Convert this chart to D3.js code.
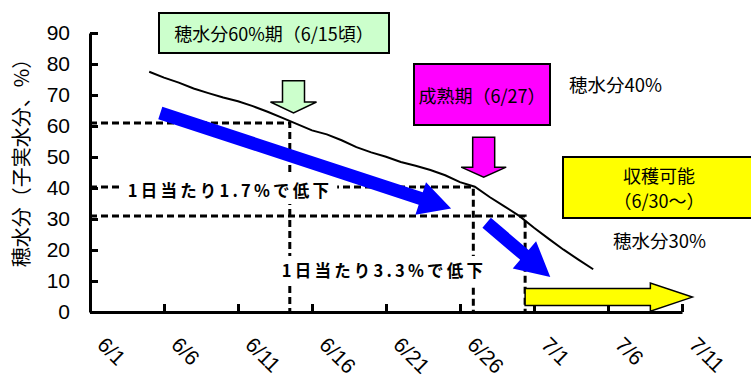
<!DOCTYPE html>
<html>
<head>
<meta charset="utf-8">
<script src="https://cdn.jsdelivr.net/npm/d3@7"></script>
<style>
  body { margin: 0; background: #fff; }
  svg { display: block; }
  text { font-family: "Noto Sans CJK JP", "Liberation Sans", sans-serif; }
  text.num { font-family: "Liberation Sans", Arial, sans-serif; }
</style>
</head>
<body>
<script>
// daily moisture readings (days counted from 6/1)
var dates = ["6/5","6/6","6/7","6/8","6/9","6/10","6/11","6/12","6/13","6/14","6/15","6/16",
             "6/17","6/18","6/19","6/20","6/21","6/22","6/23","6/24","6/25","6/26","6/27","6/28",
             "6/29","6/30","7/1","7/2","7/3","7/4","7/5"];
var moisture = [77.5, 75.6, 74.0, 72.1, 70.6, 69.2, 68.0, 66.4, 64.6, 62.6, 60.6, 58.6,
                57.3, 55.4, 53.2, 51.5, 50.1, 48.4, 47.2, 45.8, 44.1, 41.9, 40.4, 37.1,
                34.1, 31.0, 27.2, 23.6, 20.1, 16.9, 13.8];
var tickLabels = ["6/1","6/6","6/11","6/16","6/21","6/26","7/1","7/6","7/11"];
var yTicks = [0, 10, 20, 30, 40, 50, 60, 70, 80, 90];

// reference points (day, moisture) for the dashed guide lines
var guideDays = [13.5, 25.9, 29.4];
var guideLevels = [61, 40.3, 31];

function dayOf(s) {
  var p = s.split("/");
  return (+p[0] === 7 ? 30 : 0) + (+p[1]) - 1;
}

var W = 751, H = 379;
var svg = d3.select("body").append("svg").attr("width", W).attr("height", H);

var x = d3.scaleLinear().domain([0, 40]).range([90, 682]);
var y = d3.scaleLinear().domain([0, 90]).range([312, 33]);

// y axis
var yAxis = svg.append("g").attr("transform", "translate(" + x(0) + ",0)")
  .call(d3.axisLeft(y).tickValues(yTicks).tickSize(-8).tickPadding(20).tickSizeOuter(0));
yAxis.select(".domain").attr("stroke", "#000").attr("stroke-width", 3);
yAxis.selectAll(".tick line").attr("stroke", "#000").attr("stroke-width", 3);
yAxis.selectAll(".tick text").attr("class", "num").style("font-size", "21px").attr("fill", "#000");

// x axis
var xAxis = svg.append("g").attr("transform", "translate(0," + y(0) + ")")
  .call(d3.axisBottom(x).tickValues(d3.range(5, 41, 5)).tickSize(-8).tickSizeOuter(0).tickFormat(""));
xAxis.select(".domain").attr("stroke", "#000").attr("stroke-width", 3);
xAxis.selectAll(".tick line").attr("stroke", "#000").attr("stroke-width", 3);

svg.append("g").selectAll("text").data(tickLabels).enter().append("text")
  .attr("class", "num")
  .attr("transform", function(d, i) {
    return "translate(" + (x(i * 5) + 6) + ",346) rotate(45)";
  })
  .style("font-size", "21px")
  .text(function(d) { return d; });

// y axis title
svg.append("text")
  .attr("transform", "translate(29,158) rotate(-90)")
  .attr("text-anchor", "middle")
  .style("font-size", "20px")
  .text("穂水分（子実水分、%）");

// dashed guides
var guides = svg.append("g").attr("stroke", "#000").attr("stroke-width", 3)
  .attr("stroke-dasharray", "7,4").attr("fill", "none");
guideDays.forEach(function(d, i) {
  guides.append("path")
    .attr("d", "M" + x(0) + "," + y(guideLevels[i]) + "H" + x(d) + "V" + y(0));
});

// rate labels with white backing
function label(txt, cx, cy, size, spacing) {
  var g = svg.append("g");
  var t = g.append("text").attr("x", cx).attr("y", cy).attr("text-anchor", "middle")
    .attr("dominant-baseline", "central").style("font-size", size + "px").attr("font-weight", "bold")
    .attr("letter-spacing", spacing).text(txt);
  var b = t.node().getBBox();
  g.insert("rect", "text").attr("x", b.x - 5).attr("y", b.y - 2)
    .attr("width", b.width + 10).attr("height", b.height + 4).attr("fill", "#fff");
}
label("1日当たり1.7%で低下", 230, 190, 16.5, 3.2);
label("1日当たり3.3%で低下", 384, 270, 16.5, 3.2);

// block arrow polygon between two pixel points
function arrow(x0, y0, x1, y1, shaftW, headW, headL) {
  var dx = x1 - x0, dy = y1 - y0, len = Math.sqrt(dx * dx + dy * dy);
  var ux = dx / len, uy = dy / len, nx = -uy, ny = ux;
  var bx = x1 - ux * headL, by = y1 - uy * headL;
  var pts = [
    [x0 + nx * shaftW / 2, y0 + ny * shaftW / 2],
    [bx + nx * shaftW / 2, by + ny * shaftW / 2],
    [bx + nx * headW / 2, by + ny * headW / 2],
    [x1, y1],
    [bx - nx * headW / 2, by - ny * headW / 2],
    [bx - nx * shaftW / 2, by - ny * shaftW / 2],
    [x0 - nx * shaftW / 2, y0 - ny * shaftW / 2]
  ];
  return "M" + pts.map(function(p) { return p.join(","); }).join("L") + "Z";
}

// blue trend arrows
svg.append("path").attr("d", arrow(x(4.75), y(64.2), x(24.4), y(33.4), 13, 34, 32)).attr("fill", "#0000ff");
svg.append("path").attr("d", arrow(x(26.8), y(28.8), x(31.1), y(11.3), 13, 36, 34)).attr("fill", "#0000ff");

// moisture line
var line = d3.line().x(function(d, i) { return x(dayOf(dates[i])); }).y(function(d) { return y(d); });
svg.append("path").datum(moisture).attr("d", line).attr("fill", "none")
  .attr("stroke", "#000").attr("stroke-width", 2);

// callout boxes
function box(x0, y0, w, h, fill, lines, size) {
  svg.append("rect").attr("x", x0).attr("y", y0).attr("width", w).attr("height", h)
    .attr("fill", fill).attr("stroke", "#000").attr("stroke-width", 2);
  lines.forEach(function(s, i) {
    svg.append("text").attr("x", x0 + w / 2)
      .attr("y", y0 + h / 2 + (i - (lines.length - 1) / 2) * 25)
      .attr("text-anchor", "middle").attr("dominant-baseline", "central")
      .style("font-size", size + "px").text(s);
  });
}
box(159, 13, 230, 40, "#ccffcc", ["穂水分60%期（6/15頃）"], 18);
box(414, 64, 136, 61, "#ff00ff", ["成熟期（6/27）"], 18);
box(563, 157, 192, 61, "#ffff00", ["収穫可能", "（6/30～）"], 18);

svg.append("text").attr("x", 569).attr("y", 84).attr("dominant-baseline", "central")
  .style("font-size", "18.5px").text("穂水分40%");
svg.append("text").attr("x", 613).attr("y", 240).attr("dominant-baseline", "central")
  .style("font-size", "18.5px").text("穂水分30%");

// stage arrows
svg.append("path").attr("d", arrow(x(13.75), y(74.6), x(13.75), y(64.2), 22, 46, 11))
  .attr("fill", "#ccffcc").attr("stroke", "#000").attr("stroke-width", 1.5);
svg.append("path").attr("d", arrow(x(26.6), y(56.4), x(26.6), y(43.5), 22, 45, 10))
  .attr("fill", "#ff00ff").attr("stroke", "#000").attr("stroke-width", 1.5);
svg.append("path").attr("d", arrow(x(29.4), y(4.8), x(40.7), y(4.8), 17, 28, 42))
  .attr("fill", "#ffff00").attr("stroke", "#000").attr("stroke-width", 1.5);
</script>
</body>
</html>
